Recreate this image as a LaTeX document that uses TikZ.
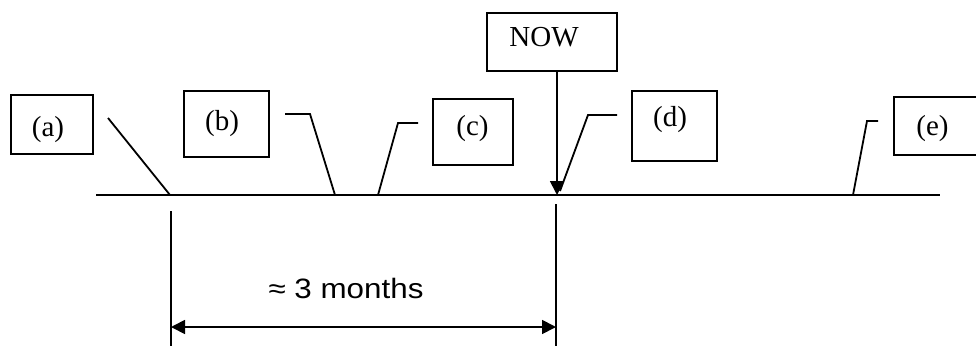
\documentclass[tikz,border=0pt]{standalone}
\usepackage{fontspec}
\setmainfont{Liberation Serif}
\newfontfamily\dimfont[FakeStretch=1.12]{Liberation Sans}
\usetikzlibrary{arrows.meta}
\begin{document}
\begin{tikzpicture}[x=1pt,y=-1pt,
  box/.style={draw, line width=2pt, inner sep=0pt, outer sep=0pt},
  lbl/.style={font=\fontsize{29}{34}\selectfont, inner sep=0pt},
  conn/.style={line width=1.8pt, line join=miter},
  tip/.style={-{Triangle[length=14pt,width=14pt]}},
  tips/.style={{Triangle[length=14pt,width=14pt]}-{Triangle[length=14pt,width=14pt]}}]
\useasboundingbox (0,0) rectangle (976,345);
\clip (0,0) rectangle (976,345);

% boxes
\node[box, minimum width=82pt, minimum height=59pt,
  label={[lbl,xshift=-4pt,yshift=-5.5pt]center:(a)}] (a) at (52,124.5) {};
\node[box, minimum width=85pt, minimum height=66pt,
  label={[lbl,xshift=-4.5pt,yshift=0.5pt]center:(b)}] (b) at (226.5,124) {};
\node[box, minimum width=80pt, minimum height=66pt,
  label={[lbl,xshift=-0.5pt,yshift=3.5pt]center:(c)}] (c) at (473,132) {};
\node[box, minimum width=130pt, minimum height=58pt,
  label={[lbl,xshift=-8pt,yshift=4.5pt]center:NOW}] (NOW) at (552,42) {};
\node[box, minimum width=85pt, minimum height=70pt,
  label={[lbl,xshift=-4.5pt,yshift=6pt]center:(d)}] (d) at (674.5,126) {};
\node[box, minimum width=84pt, minimum height=58pt,
  label={[lbl,xshift=-3.5pt,yshift=-3pt]center:(e)}] (e) at (936,126) {};

% time line
\coordinate (L) at (96,195);
\coordinate (R) at (940,195);
\draw[conn, line width=2pt] (L) -- (R);

% connectors
\coordinate (a0) at (108,118); \coordinate (a1) at (170,195);
\draw[conn] (a0) -- (a1);
\coordinate (b0) at (285,114); \coordinate (b1) at (310,114); \coordinate (b2) at (335,195);
\draw[conn] (b0) -- (b1) -- (b2);
\coordinate (c0) at (418,123); \coordinate (c1) at (398,123); \coordinate (c2) at (378,195);
\draw[conn] (c0) -- (c1) -- (c2);
\coordinate (d0) at (617,115); \coordinate (d1) at (588,115); \coordinate (d2) at (560,191);
\draw[conn] (d0) -- (d1) -- (d2);
\coordinate (e0) at (878,121); \coordinate (e1) at (867,121); \coordinate (e2) at (853,195);
\draw[conn] (e0) -- (e1) -- (e2);

% NOW arrow
\coordinate (nowpt) at (557,195);
\draw[conn,tip] (NOW.south -| nowpt) -- (nowpt);

% dimension
\coordinate (dl0) at (171,211); \coordinate (dl1) at (171,350);
\coordinate (dr0) at (556,204); \coordinate (dr1) at (556,350);
\draw[conn] (dl0) -- (dl1);
\draw[conn] (dr0) -- (dr1);
\coordinate (dA) at (171,327); \coordinate (dB) at (556,327);
\draw[conn,tips] (dA) -- (dB);
\node[font=\dimfont\fontsize{28}{34}\selectfont, inner sep=0pt] (dim) at (346,288) {≈ 3 months};
\end{tikzpicture}
\end{document}
